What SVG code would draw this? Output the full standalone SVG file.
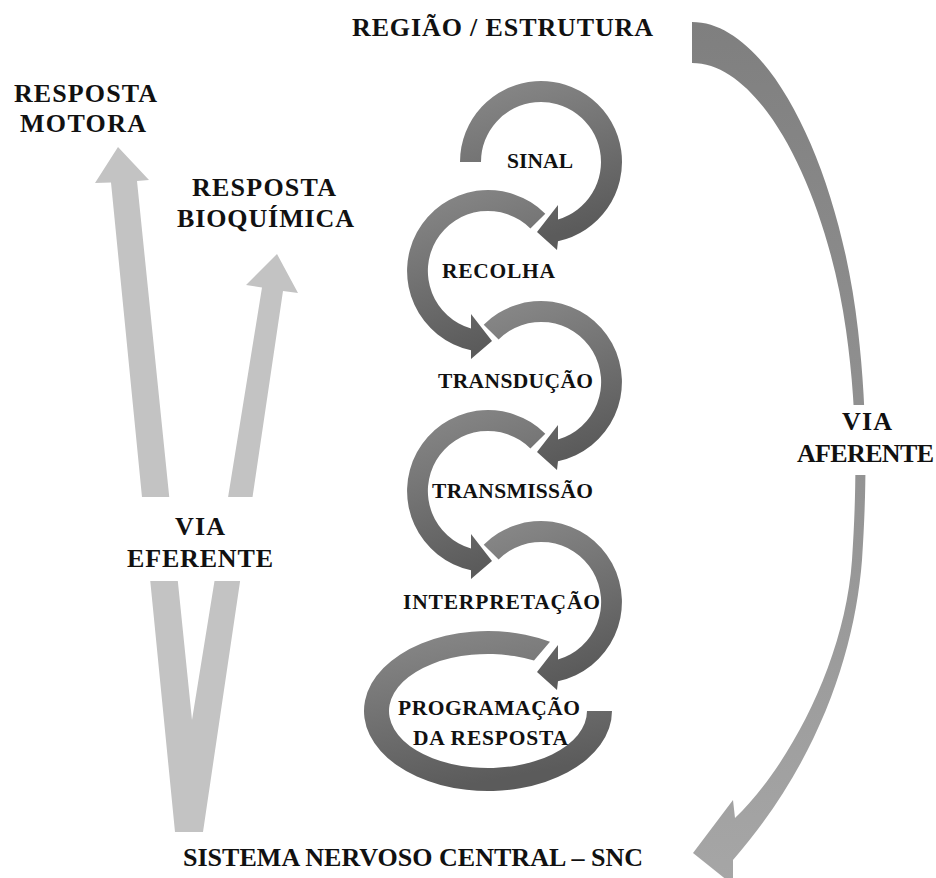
<svg xmlns="http://www.w3.org/2000/svg" width="936" height="878" viewBox="0 0 936 878">
<defs>
<linearGradient id="gSpiral" x1="0" y1="0" x2="0.3" y2="1">
<stop offset="0" stop-color="#8a8a8a"/>
<stop offset="1" stop-color="#5b5b5b"/>
</linearGradient>
<linearGradient id="gAff" x1="0" y1="0" x2="0" y2="1">
<stop offset="0" stop-color="#7f7f7f"/>
<stop offset="1" stop-color="#a6a6a6"/>
</linearGradient>
<style>
.big{font-family:"Liberation Serif","Times New Roman",serif;font-weight:bold;font-size:26px;fill:#111;}
.sm{font-family:"Liberation Serif","Times New Roman",serif;font-weight:bold;font-size:21.5px;fill:#111;}
.spiral{fill:url(#gSpiral);}
.eff{fill:#c3c3c3;}
.aff{fill:url(#gAff);}
.bg{fill:#fff;}
</style>
</defs>
<rect width="936" height="878" fill="#fff"/>
<g id="connectors">
<path class="aff" d="M692,22 C770,22 840,170 858,330 C866,400 868,470 862,560 C855,650 820,760 733,860 L733,885 L693,853 L733,800 L735,818 C790,765 845,660 852,560 C858,470 856,400 846,330 C828,200 765,63 692,63 Z"/>
<path class="eff" d="M175,832 L111,182.5 L95,183 L118,147 L149,180 L137,181 L192,720 L262,287.5 L246,285 L277,254 L298,293 L283,291 L203,832 Z"/>
<path class="spiral" d="M460,162 A81,81 0 1 1 558,241.2 L557,250 L537,232 L558,205 L558,219.5 A60,60 0 1 0 481,162 Z"/>
<path class="spiral" d="M545.3,213.7 A81,81 0 1 0 471,350.2 L471,359 L492,341 L471,314 L471,328.5 A60,60 0 1 1 530.4,228.6 Z"/>
<path class="spiral" d="M483.7,324.7 A81,81 0 1 1 558,461.2 L557,470 L537,452 L558,425 L558,439.5 A60,60 0 1 0 498.6,339.6 Z"/>
<path class="spiral" d="M545.3,433.7 A81,81 0 1 0 471,570.2 L471,579 L492,561 L471,534 L471,548.5 A60,60 0 1 1 530.4,448.6 Z"/>
<path class="spiral" d="M483.7,544.7 A81,81 0 1 1 558,681.2 L557,690 L537,672 L558,645 L558,659.5 A60,60 0 1 0 498.6,559.6 Z"/>
<path class="spiral" d="M550,641.7 A124,80 0 1 0 612,711 L587,711 A99,57 0 1 1 534,660.5 Z"/>
</g>
<g id="regiao"><text class="big" x="352" y="36" textLength="301">REGIÃO / ESTRUTURA</text></g>
<g id="resposta-motora">
<text class="big" x="14" y="102" textLength="143">RESPOSTA</text>
<text class="big" x="20" y="132" textLength="126">MOTORA</text>
</g>
<g id="resposta-bioquimica">
<text class="big" x="192" y="196" textLength="144">RESPOSTA</text>
<text class="big" x="177" y="227" textLength="177">BIOQUÍMICA</text>
</g>
<g id="via-eferente">
<rect class="bg" x="118" y="497" width="164" height="84"/>
<text class="big" x="175" y="535" textLength="50">VIA</text>
<text class="big" x="127" y="567" textLength="146">EFERENTE</text>
</g>
<g id="via-aferente">
<rect class="bg" x="796" y="405" width="140" height="70"/>
<text class="big" x="842" y="430" textLength="50">VIA</text>
<text class="big" x="797" y="462" textLength="137">AFERENTE</text>
</g>
<g id="snc"><text class="big" x="183" y="866" textLength="460">SISTEMA NERVOSO CENTRAL – SNC</text></g>
<g id="sinal"><text class="sm" x="507" y="168" textLength="66">SINAL</text></g>
<g id="recolha"><text class="sm" x="442" y="278" textLength="113">RECOLHA</text></g>
<g id="transducao"><text class="sm" x="438" y="388" textLength="155">TRANSDUÇÃO</text></g>
<g id="transmissao"><text class="sm" x="432" y="498" textLength="161">TRANSMISSÃO</text></g>
<g id="interpretacao"><text class="sm" x="403" y="609" textLength="197">INTERPRETAÇÃO</text></g>
<g id="programacao">
<text class="sm" x="398" y="715" textLength="182">PROGRAMAÇÃO</text>
<text class="sm" x="413" y="745" textLength="155">DA RESPOSTA</text>
</g>
</svg>
